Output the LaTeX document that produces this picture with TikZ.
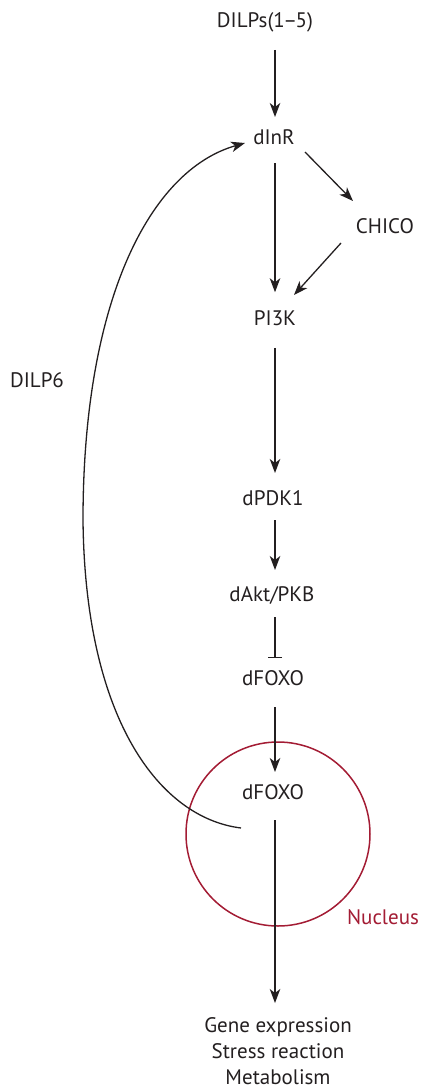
\documentclass[tikz,border=0pt]{standalone}
\usepackage{fontspec}
\setmainfont{PT Sans}
\usetikzlibrary{arrows.meta}
\definecolor{ink}{RGB}{35,31,32}
\definecolor{nucred}{RGB}{163,28,52}
\tikzset{
  lbl/.style={inner sep=0pt, text=ink, font=\fontsize{21}{26}\selectfont},
  arr/.style={draw=ink, line width=1.3pt, -{Stealth[length=14pt, width=10.5pt, inset=4pt]}},
  inh/.style={draw=ink, line width=1.3pt, -{Bar[width=14pt]}},
}
\begin{document}
\begin{tikzpicture}[x=1pt, y=-1pt]
\useasboundingbox (0,0) rectangle (421,1089);

% nucleus
\draw[nucred, line width=1.5pt] (278,834) circle[radius=92];
\node[lbl, text=nucred] (nucleus) at (383,917) {Nucleus};

% pathway components
\node[lbl] (dilps)  at (265,22)  {DILPs(1\kern-1.5pt--\kern-1.5pt5)};
\node[lbl] (dinr)   at (274,137) {dInR};
\node[lbl] (chico)  at (385,226) {CHICO};
\node[lbl] (pi3k)   at (275,318) {PI3K};
\node[lbl] (dpdk)   at (273,498) {dPDK1};
\node[lbl] (dakt)   at (272,595) {dAkt/PKB};
\node[lbl] (dfoxoA) at (273,678) {dFOXO};
\node[lbl] (dfoxoB) at (273,792) {dFOXO};
\node[lbl, align=center] (outcome) at (278,1051) {Gene expression\\Stress reaction\\Metabolism};
\node[lbl] (dilp6)  at (37,380)  {DILP6};

% signalling cascade
\draw[arr, shorten <=28pt, shorten >=20pt] (dilps -| pi3k) -- (dinr -| pi3k);
\draw[arr, shorten <=26pt, shorten >=18pt] (dinr -| pi3k) -- (pi3k);
\draw[arr] ([shift={(31,15)}]dinr.center) -- ([shift={(-32,-25)}]chico.center);
\draw[arr] ([shift={(-44,17)}]chico.center) -- ([shift={(19,-23)}]pi3k.center);
\draw[arr, shorten <=22pt, shorten >=25pt] (pi3k) -- (dpdk -| pi3k);
\draw[arr, shorten <=22pt, shorten >=25pt] (dpdk -| pi3k) -- (dakt -| pi3k);
\draw[inh, shorten <=22pt, shorten >=20pt] (dakt -| pi3k) -- (dfoxoA -| pi3k);
\draw[arr, shorten <=29pt, shorten >=20pt] (dfoxoA -| pi3k) -- (dfoxoB -| pi3k);
\draw[arr, shorten <=28pt, shorten >=48pt] (dfoxoB -| pi3k) -- (outcome -| pi3k);

% DILP6 feedback loop
\draw[arr] ([shift={(-32,36)}]dfoxoB.center)
  .. controls (160,818) and (85,720) .. (83,520)
  .. controls (83,300) and (150,170) .. ([shift={(-29,6)}]dinr.center);
\end{tikzpicture}
\end{document}
